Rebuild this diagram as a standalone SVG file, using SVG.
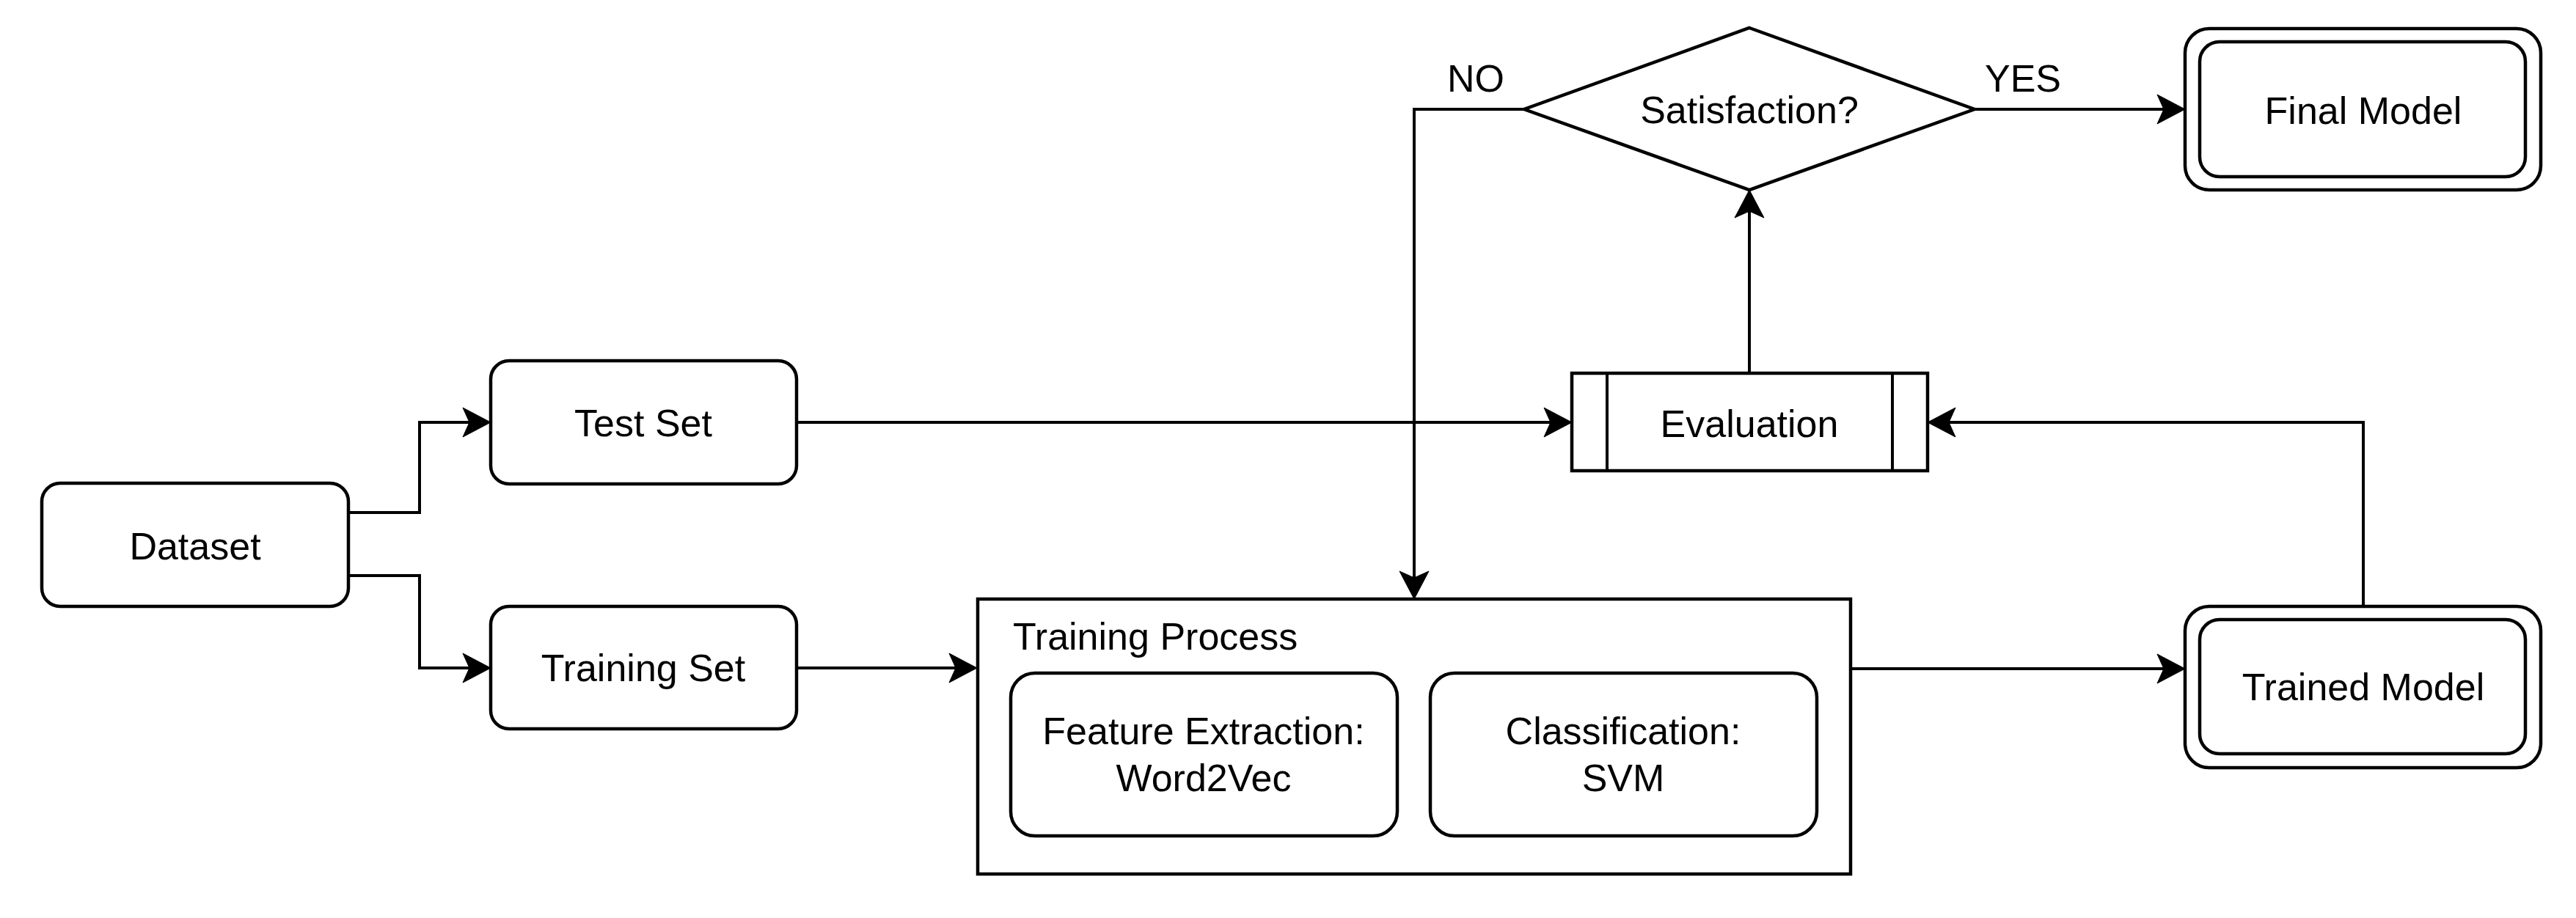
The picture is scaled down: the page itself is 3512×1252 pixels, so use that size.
<svg xmlns="http://www.w3.org/2000/svg" width="3512" height="1252" viewBox="0 0 3512 1252">
<style>
.box{fill:#fff;stroke:#000;stroke-width:4.5}
.ln{fill:none;stroke:#000;stroke-width:4}
.t{font-family:"Liberation Sans",Arial,Helvetica,sans-serif;font-size:52px;fill:#000;text-anchor:middle}
.tl{font-family:"Liberation Sans",Arial,Helvetica,sans-serif;font-size:52px;fill:#000}
.c{stroke:#000;stroke-width:4;fill:none;marker-end:url(#arr)}
</style>
<defs>
<marker id="arr" markerUnits="userSpaceOnUse" viewBox="-10 -21 40 42" refX="0" refY="0" markerWidth="40" markerHeight="42" orient="auto" overflow="visible">
<path d="M29,0 L-9,-20 L0,0 L-9,20 Z" fill="#000" stroke="#000" stroke-width="1"/>
</marker>
</defs>
<rect width="3512" height="1252" fill="#fff"/>
<g id="connectors">
<path class="c" d="M475,699 H572 V576 H640"/>
<path class="c" d="M475,785 H572 V911 H640"/>
<path class="c" d="M1086,576 H2114"/>
<path class="c" d="M1086,911 H1303"/>
<path class="c" d="M2523,912 H2950"/>
<path class="c" d="M3222,827 V576 H2657"/>
<path class="c" d="M2385,509 V288"/>
<path class="c" d="M2692,149 H2950"/>
<path class="c" d="M2078,149 H1928 V788"/>
<text class="t" x="2012" y="125">NO</text>
<text class="t" x="2758" y="125">YES</text>
</g>
<g id="dataset">
<rect class="box" x="57" y="659" width="418" height="168" rx="25"/>
<text class="t" x="266" y="763">Dataset</text>
</g>
<g id="test-set">
<rect class="box" x="669" y="492" width="417" height="168" rx="25"/>
<text class="t" x="877" y="595">Test Set</text>
</g>
<g id="training-set">
<rect class="box" x="669" y="827" width="417" height="167" rx="25"/>
<text class="t" x="877" y="929">Training Set</text>
</g>
<g id="training-process">
<rect class="box" x="1333" y="817" width="1190" height="375"/>
<text class="tl" x="1381" y="886">Training Process</text>
</g>
<g id="feature-extraction">
<rect class="box" x="1378" y="918" width="527" height="222" rx="33"/>
<text class="t" x="1641" y="1015">Feature Extraction:</text>
<text class="t" x="1641" y="1079">Word2Vec</text>
</g>
<g id="classification">
<rect class="box" x="1950" y="918" width="527" height="222" rx="33"/>
<text class="t" x="2213" y="1015">Classification:</text>
<text class="t" x="2213" y="1079">SVM</text>
</g>
<g id="evaluation">
<rect class="box" x="2143" y="509" width="485" height="133"/>
<line class="ln" x1="2191" y1="509" x2="2191" y2="642"/>
<line class="ln" x1="2580" y1="509" x2="2580" y2="642"/>
<text class="t" x="2385" y="596">Evaluation</text>
</g>
<g id="satisfaction">
<polygon class="box" points="2385,38 2692,149 2385,259 2078,149"/>
<text class="t" x="2385" y="168">Satisfaction?</text>
</g>
<g id="final-model">
<rect class="box" x="2979" y="39" width="485" height="220" rx="33"/>
<rect class="box" x="2999" y="57" width="444" height="184" rx="27"/>
<text class="t" x="3222" y="169">Final Model</text>
</g>
<g id="trained-model">
<rect class="box" x="2979" y="827" width="485" height="220" rx="33"/>
<rect class="box" x="2999" y="845" width="444" height="183" rx="27"/>
<text class="t" x="3222" y="955">Trained Model</text>
</g>
</svg>
